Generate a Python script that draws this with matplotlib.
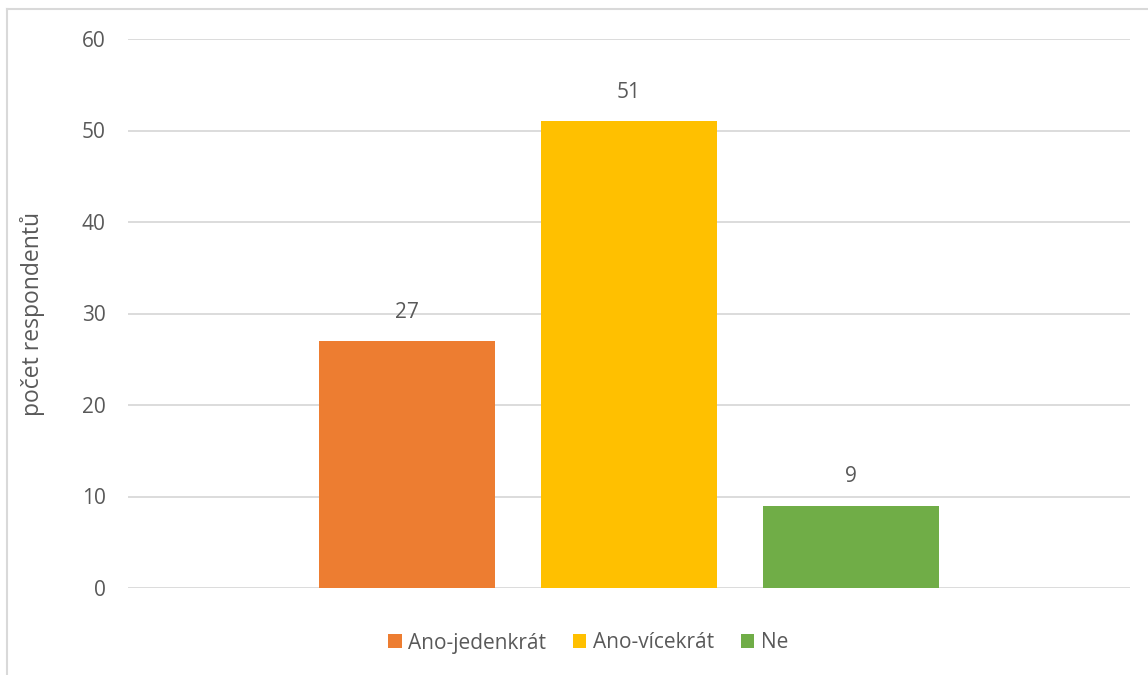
import matplotlib
matplotlib.use("Agg")
import matplotlib.pyplot as plt
from matplotlib.lines import Line2D
from matplotlib.patches import Patch

series = ["Ano-jedenkrát", "Ano-vícekrát", "Ne"]
values = [27, 51, 9]
colors = ["#ED7D31", "#FFC000", "#70AD47"]
yticks = [0, 10, 20, 30, 40, 50, 60]
ylabel = "počet respondentů"

plt.rcParams['font.family'] = ['Open Sans', 'DejaVu Sans']
txt = "#595959"

W, H = 1148, 675
fig = plt.figure(figsize=(W / 100, H / 100), dpi=100)
ax = fig.add_axes([128 / W, 1 - 588 / H, (1130 - 128) / W, (588 - 39) / H])

width = 0.1756
step = 0.2215
for i, (s, v, c) in enumerate(zip(series, values, colors)):
    x = (i - 1) * step
    ax.bar(x, v, width=width, color=c, label=s, zorder=3)
    ax.text(x, v + 2.0, str(v), ha="center", va="bottom", fontsize=15, color=txt)

ax.set_xlim(-0.5, 0.5)
ax.set_ylim(0, 60)
ax.set_yticks(yticks)
ax.set_yticklabels([str(t) for t in yticks], fontsize=15, color=txt)
ax.tick_params(axis="y", length=0, pad=16)
ax.set_xticks([])
ax.grid(axis="y", color="#d9d9d9", linewidth=1.3, zorder=0)
for sp in ax.spines.values():
    sp.set_visible(False)
ax.set_ylabel(ylabel, fontsize=16.5, color=txt)
ax.yaxis.set_label_coords((45 - 128) / (1130 - 128), 0.5)

handles = [Patch(facecolor=c, edgecolor="none") for c in colors]
leg = fig.legend(handles, series, loc="center", bbox_to_anchor=(588 / W, 1 - 643 / H),
                 ncol=3, frameon=False, fontsize=15, handlelength=0.65, handleheight=0.65,
                 handletextpad=0.3, columnspacing=1.3)
for t in leg.get_texts():
    t.set_color(txt)

# chart border (partially visible)
fig.add_artist(Line2D([7 / W, 7 / W], [0, 1 - 9 / H], transform=fig.transFigure,
                      color="#d9d9d9", linewidth=1.5))
fig.add_artist(Line2D([7 / W, 1], [1 - 9 / H, 1 - 9 / H], transform=fig.transFigure,
                      color="#d9d9d9", linewidth=1.5))

fig.savefig("out.png", dpi=100, facecolor="white")
